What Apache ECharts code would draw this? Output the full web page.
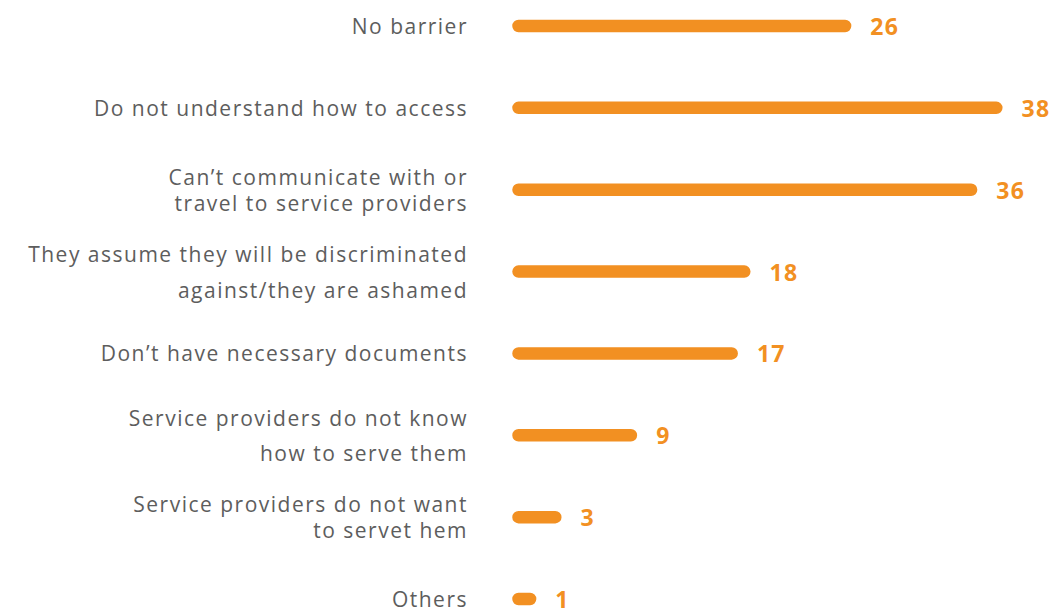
<!DOCTYPE html>
<html>
<head>
<meta charset="utf-8">
<script src="https://cdn.jsdelivr.net/npm/echarts@6/dist/echarts.min.js"></script>
<style>
  html, body { margin: 0; padding: 0; background: #fff; }
  #chart { width: 1055px; height: 613px; }
  #chart svg text { letter-spacing: 1.5px; }
  #chart svg text[fill="#f29022"] { letter-spacing: 1.2px; }
</style>
</head>
<body>
<div id="chart"></div>
<script>
// Reported barriers to accessing services (counts)
const categories = [
  'No barrier',
  'Do not understand how to access',
  'Can\u2019t communicate with or\ntravel to service providers',
  'They assume they will be discriminated\nagainst/they are ashamed',
  'Don\u2019t have necessary documents',
  'Service providers do not know\nhow to serve them',
  'Service providers do not want\nto servet hem',
  'Others'
];
const values = [26, 38, 36, 18, 17, 9, 3, 1];

// Line spacing used for each wrapped label
const labelLineHeights = [24, 26, 26, 36, 26, 35, 26, 22];

const ORANGE = '#f29022';
const GREY = '#5d5d5d';
const BAR_THICKNESS = 13;

const chart = echarts.init(document.getElementById('chart'), null, { renderer: 'svg' });

chart.setOption({
  animation: false,
  backgroundColor: '#ffffff',
  // bars are thin rects stroked with a round join, so each pill reaches
  // half its thickness past both ends of its value span
  grid: { left: 518, right: 33, top: 26, bottom: 14, containLabel: false },
  xAxis: {
    type: 'value',
    min: 0,
    max: 40,
    show: false
  },
  yAxis: {
    type: 'category',
    inverse: true,
    boundaryGap: false,
    data: categories.map((c, i) => ({
      value: c,
      textStyle: { lineHeight: labelLineHeights[i] }
    })),
    axisLine: { show: false },
    axisTick: { show: false },
    splitLine: { show: false },
    axisLabel: {
      margin: 50,
      align: 'right',
      color: GREY,
      fontFamily: 'Open Sans',
      fontSize: 21
    }
  },
  series: [{
    type: 'bar',
    data: values,
    barWidth: 0.5,
    itemStyle: {
      color: ORANGE,
      borderColor: ORANGE,
      borderWidth: BAR_THICKNESS - 0.5,
      borderJoin: 'round'
    },
    label: {
      show: true,
      position: 'right',
      distance: 19,
      color: ORANGE,
      fontFamily: 'Open Sans',
      fontWeight: 'bold',
      fontSize: 23,
      lineHeight: 22
    }
  }]
});
</script>
</body>
</html>
